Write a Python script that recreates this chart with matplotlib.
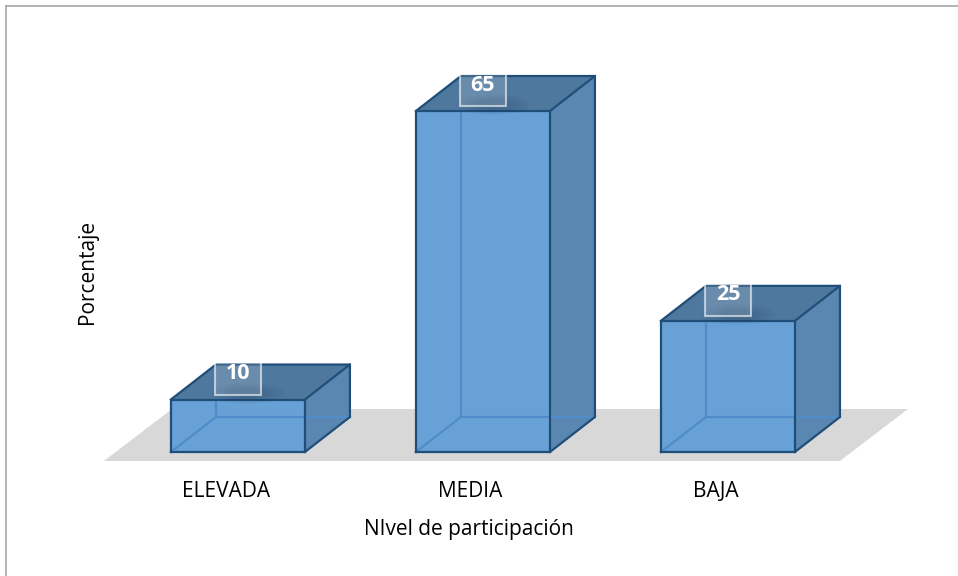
import matplotlib
matplotlib.use("Agg")
import matplotlib.pyplot as plt
from matplotlib.patches import Polygon, Ellipse
from matplotlib.lines import Line2D

categories = ["ELEVADA", "MEDIA", "BAJA"]
values = [10, 65, 25]
x_label = "NIvel de participación"
y_label = "Porcentaje"

plt.rcParams['font.family'] = ['Open Sans', 'DejaVu Sans']

fig = plt.figure(figsize=(9.58, 5.76), dpi=100)
ax = fig.add_axes([0, 0, 1, 1])
ax.set_xlim(-0.971, 2.939)
ax.set_ylim(-23.64, 86.16)
ax.axis("off")

# figure border (top & left visible)
fig.add_artist(Line2D([5.5/958, 5.5/958], [0, 1 - 5.5/576], transform=fig.transFigure, color="#A6A6A6", lw=1.2))
fig.add_artist(Line2D([5.5/958, 1], [1 - 5.5/576, 1 - 5.5/576], transform=fig.transFigure, color="#A6A6A6", lw=1.2))

# floor
floor = Polygon([(-0.547, -1.716), (2.457, -1.716), (2.735, 8.197), (-0.269, 8.197)],
                closed=True, facecolor="#D9D8D9", edgecolor="none", zorder=1)
ax.add_patch(floor)

w = 0.2735
ddx = 0.1837
ddy = 6.67
front_c = "#68A1D5"
top_c = "#4F789E"
side_c = "#5A87B2"
edge_c = "#1F4E79"
hidden_c = "#4F8CC9"

for i, (cat, v) in enumerate(zip(categories, values)):
    x0, x1 = i - w, i + w
    front = Polygon([(x0, 0), (x1, 0), (x1, v), (x0, v)], closed=True,
                    facecolor=front_c, edgecolor="none", zorder=3)
    side = Polygon([(x1, 0), (x1 + ddx, ddy), (x1 + ddx, v + ddy), (x1, v)], closed=True,
                   facecolor=side_c, edgecolor="none", zorder=3)
    top = Polygon([(x0, v), (x1, v), (x1 + ddx, v + ddy), (x0 + ddx, v + ddy)], closed=True,
                  facecolor=top_c, edgecolor="none", zorder=3)
    for p in (front, side, top):
        ax.add_patch(p)
    # hidden back edges seen through the translucent box
    ax.plot([x0, x0 + ddx], [0, ddy], color=hidden_c, lw=1.6, zorder=4)
    ax.plot([x0 + ddx, x1 + ddx], [ddy, ddy], color=hidden_c, lw=1.6, zorder=4)
    ax.plot([x0 + ddx, x0 + ddx], [ddy, v], color=hidden_c, lw=1.6, zorder=4)
    # visible outline edges
    ax.plot([x0, x1, x1, x0, x0], [0, 0, v, v, 0], color=edge_c, lw=1.6, zorder=5,
            solid_joinstyle="miter")
    ax.plot([x1, x1 + ddx, x1 + ddx, x1], [0, ddy, v + ddy, v], color=edge_c, lw=1.6, zorder=5)
    ax.plot([x0, x0 + ddx, x1 + ddx], [v, v + ddy, v + ddy], color=edge_c, lw=1.6, zorder=5)
    # soft shadow under label
    for k, a in enumerate([0.05, 0.05, 0.06, 0.07]):
        ax.add_patch(Ellipse((i + 0.04, v + 1.2), 0.30 - 0.05 * k, 4.0 - 0.7 * k,
                             facecolor="#1B3550", edgecolor="none", alpha=a, zorder=6))
    # data label
    ax.text(i, v + 4.95, str(v), ha="center", va="center", color="white",
            fontsize=15.5, fontweight="bold", zorder=8,
            bbox=dict(boxstyle="square,pad=0.5", facecolor=(1, 1, 1, 0.15),
                      edgecolor=(1, 1, 1, 0.6), lw=1.5))
    # category label
    ax.text(i - 0.05, -7.6, cat, ha="center", va="center", color="black", fontsize=15)

fig.text(469/958, 1 - 530/576, x_label, ha="center", va="center", fontsize=15)
fig.text(88/958, 1 - 272/576, y_label, ha="center", va="center", fontsize=15, rotation=90)

fig.savefig("out.png", dpi=100)
